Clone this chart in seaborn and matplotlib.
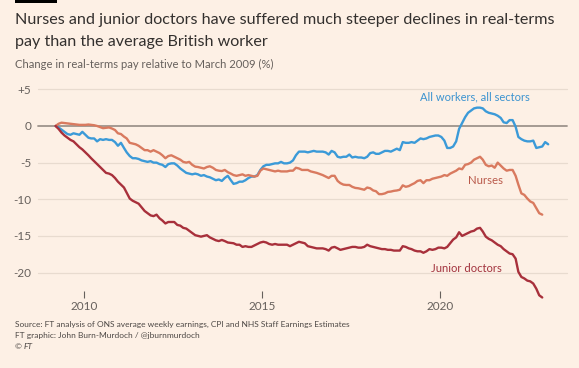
import matplotlib.pyplot as plt
import matplotlib.dates as mdates
import pandas as pd
import seaborn as sns
from matplotlib.patches import Rectangle

# Monthly values from March 2009, % change in real-terms pay
all_workers = [
    0, -0.2, -0.5, -0.8, -1.1, -1.2, -1.0, -1.1, -1.2, -0.8,
    -1.2, -1.6, -1.7, -1.7, -2.1, -1.8, -1.9, -1.8, -1.9, -1.9,
    -2.2, -2.7, -2.3, -3.0, -3.6, -4.1, -4.4, -4.4, -4.5, -4.7,
    -4.8, -4.9, -4.8, -5.0, -5.0, -5.2, -5.3, -5.6, -5.2, -5.1,
    -5.1, -5.4, -5.8, -6.1, -6.4, -6.5, -6.6, -6.5, -6.6, -6.8,
    -6.7, -6.9, -7.0, -7.2, -7.4, -7.3, -7.5, -7.1, -6.8, -7.4,
    -7.9, -7.8, -7.6, -7.6, -7.4, -7.1, -6.9, -6.9, -6.7, -6.0,
    -5.5, -5.3, -5.3, -5.2, -5.1, -5.1, -4.9, -5.1, -5.1, -5.0,
    -4.7, -4.0, -3.5, -3.5, -3.5, -3.6, -3.5, -3.4, -3.5, -3.5,
    -3.5, -3.6, -3.9, -3.4, -3.6, -4.2, -4.3, -4.2, -4.2, -3.9,
    -4.3, -4.2, -4.3, -4.3, -4.4, -4.2, -3.7, -3.6, -3.8, -3.8,
    -3.6, -3.4, -3.4, -3.5, -3.3, -3.1, -3.3, -2.2, -2.3, -2.3,
    -2.2, -2.3, -2.0, -1.7, -1.8, -1.7, -1.5, -1.4, -1.3, -1.3,
    -1.5, -2.0, -3.0, -3.0, -2.8, -2.1, -0.4, 0.4, 1.2, 1.8,
    2.1, 2.4, 2.5, 2.5, 2.4, 2.0, 1.8, 1.7, 1.6, 1.4,
    1.1, 0.5, 0.4, 0.8, 0.8, -0.1, -1.5, -1.8, -2.0, -2.1,
    -2.1, -2.0, -3.0, -2.9, -2.8, -2.2, -2.5,
]
nurses = [
    0, 0.3, 0.45, 0.4, 0.35, 0.3, 0.25, 0.2, 0.15, 0.15,
    0.15, 0.2, 0.15, 0.1, 0.0, -0.15, -0.3, -0.25, -0.2, -0.35,
    -0.55, -1.0, -1.1, -1.45, -1.7, -2.3, -2.4, -2.5, -2.7, -3.0,
    -3.3, -3.3, -3.5, -3.3, -3.5, -3.7, -4.0, -4.4, -4.1, -4.0,
    -4.2, -4.4, -4.6, -4.9, -5.0, -4.9, -5.3, -5.55, -5.6, -5.7,
    -5.8, -5.6, -5.5, -5.7, -6.0, -6.1, -6.15, -6.0, -6.3, -6.5,
    -6.7, -6.8, -6.7, -6.6, -6.8, -6.7, -6.8, -6.9, -6.8, -6.1,
    -5.8, -5.9, -6.0, -6.1, -6.2, -6.1, -6.2, -6.2, -6.2, -6.1,
    -6.1, -5.7, -5.8, -6.0, -6.0, -6.0, -6.2, -6.3, -6.4, -6.55,
    -6.7, -6.9, -7.1, -6.8, -6.8, -7.5, -7.8, -8.0, -8.05, -8.05,
    -8.3, -8.45, -8.5, -8.6, -8.7, -8.4, -8.5, -8.8, -8.9, -9.3,
    -9.3, -9.2, -9.0, -8.95, -8.85, -8.8, -8.7, -8.1, -8.3, -8.2,
    -8.0, -7.8, -7.5, -7.4, -7.8, -7.4, -7.4, -7.2, -7.1, -7.0,
    -6.9, -6.7, -6.8, -6.5, -6.3, -6.1, -5.8, -5.9, -5.3, -5.2,
    -5.0, -4.6, -4.4, -4.2, -4.6, -5.3, -5.5, -5.4, -5.7, -5.0,
    -5.4, -5.8, -6.1, -6.0, -6.0, -6.8, -8.0, -9.2, -9.4, -9.9,
    -10.3, -10.5, -11.2, -11.9, -12.1,
]
junior_doctors = [
    0, -0.4, -0.9, -1.3, -1.6, -1.9, -2.1, -2.5, -2.9, -3.2,
    -3.6, -4.0, -4.4, -4.8, -5.2, -5.6, -6.0, -6.4, -6.5, -6.7,
    -7.1, -7.6, -8.0, -8.4, -9.1, -9.9, -10.2, -10.4, -10.6, -11.1,
    -11.6, -11.9, -12.2, -12.3, -12.1, -12.6, -12.9, -13.3, -13.1, -13.1,
    -13.1, -13.5, -13.6, -13.9, -14.0, -14.3, -14.6, -14.9, -15.0, -15.1,
    -15.0, -14.9, -15.2, -15.4, -15.6, -15.7, -15.55, -15.7, -15.9, -15.95,
    -16.0, -16.2, -16.2, -16.5, -16.4, -16.5, -16.5, -16.3, -16.1, -15.9,
    -15.8, -15.9, -16.1, -16.2, -16.1, -16.2, -16.2, -16.2, -16.2, -16.4,
    -16.2, -16.0, -15.8, -15.9, -16.0, -16.4, -16.5, -16.6, -16.7, -16.7,
    -16.7, -16.8, -17.0, -16.6, -16.5, -16.7, -16.9, -16.8, -16.7, -16.6,
    -16.5, -16.5, -16.6, -16.6, -16.5, -16.2, -16.4, -16.5, -16.6, -16.7,
    -16.8, -16.8, -16.9, -16.9, -17.0, -17.0, -17.0, -16.4, -16.5, -16.7,
    -16.8, -17.0, -17.1, -17.1, -17.3, -17.1, -16.8, -16.9, -16.8, -16.6,
    -16.6, -16.7, -16.5, -16.0, -15.5, -15.2, -14.5, -15.0, -14.8, -14.6,
    -14.4, -14.3, -14.0, -13.9, -14.4, -15.1, -15.4, -15.6, -15.9, -16.2,
    -16.4, -16.8, -17.1, -17.4, -17.5, -18.1, -19.9, -20.6, -20.8, -21.1,
    -21.2, -21.5, -22.2, -23.1, -23.4,
]
groups = ['All workers, all sectors', 'Nurses', 'Junior doctors']
y_ticks = [5, 0, -5, -10, -15, -20]
y_labels = ['+5', '0', '-5', '-10', '-15', '-20']
x_years = [2010, 2015, 2020]

bg = '#fdf0e5'
colors = {'All workers, all sectors': '#3b9ad8', 'Nurses': '#d97a5f', 'Junior doctors': '#a8303b'}
label_colors = {'All workers, all sectors': '#3b93d0', 'Nurses': '#b9594a', 'Junior doctors': '#a2323d'}


def make_frame(vals, name):
    d = pd.date_range('2009-03-01', periods=len(vals), freq='MS') + pd.Timedelta(days=14)
    return pd.DataFrame({'date': d, 'value': vals, 'group': name})


df = pd.concat([make_frame(all_workers, groups[0]),
                make_frame(nurses, groups[1]),
                make_frame(junior_doctors, groups[2])], ignore_index=True)

sns.set_theme(style='white')
plt.rcParams['font.family'] = ['Lato', 'DejaVu Sans']

W, H = 579, 368
fig = plt.figure(figsize=(W / 100, H / 100), dpi=100, facecolor=bg)
ax = fig.add_axes([38 / W, 1 - 298 / H, (567 - 38) / W, (298 - 85) / H])
ax.set_facecolor(bg)

for v in y_ticks:
    if v != 0:
        ax.axhline(v, color='#e8dbcf', lw=0.9, zorder=0)
ax.axhline(0, color='#9d948c', lw=1.3, zorder=1)

sns.lineplot(data=df, x='date', y='value', hue='group', hue_order=groups,
             palette=colors, linewidth=1.7, legend=False, ax=ax, zorder=3)
for ln in ax.get_lines():
    ln.set_clip_on(False)

ax.set_xlim(pd.Timestamp('2008-09-16'), pd.Timestamp('2023-07-27'))
ax.set_ylim(-23.47, 5.59)
ax.set_yticks(y_ticks)
ax.set_yticklabels(y_labels)
ax.set_xticks([pd.Timestamp(f'{y}-01-01') for y in x_years])
ax.xaxis.set_major_formatter(mdates.DateFormatter('%Y'))
ax.tick_params(axis='x', direction='in', length=5, width=0.8, color='#66605c',
               pad=2, labelsize=8.5, labelcolor='#66605c', bottom=True)
ax.tick_params(axis='y', length=0, pad=5, labelsize=8.5, labelcolor='#66605c')
ax.set_xlabel('')
ax.set_ylabel('')
for s in ax.spines.values():
    s.set_visible(False)

# line labels
ax.text(pd.Timestamp('2020-12-25'), 3.96, groups[0], color=label_colors[groups[0]],
        fontsize=8.0, ha='center', va='center')
ax.text(pd.Timestamp('2021-04-15'), -7.5, groups[1], color=label_colors[groups[1]],
        fontsize=8.2, ha='center', va='center')
ax.text(pd.Timestamp('2020-10-01'), -19.4, groups[2], color=label_colors[groups[2]],
        fontsize=8.1, ha='center', va='center')

# header
fig.add_artist(Rectangle((15 / W, 1 - 3 / H), 42 / W, 3 / H, transform=fig.transFigure,
                         color='black', lw=0))
fig.text(15 / W, 1 - 24 / H, 'Nurses and junior doctors have suffered much steeper declines in real-terms',
         fontsize=11.6, color='#33302e', va='baseline')
fig.text(15 / W, 1 - 46 / H, 'pay than the average British worker',
         fontsize=11.6, color='#33302e', va='baseline')
fig.text(15 / W, 1 - 68 / H, 'Change in real-terms pay relative to March 2009 (%)',
         fontsize=8.1, color='#66605c', va='baseline')

# footer
foot = dict(fontsize=6.0, color='#4d4845', va='baseline')
fig.text(15 / W, 1 - 327 / H,
         'Source: FT analysis of ONS average weekly earnings, CPI and NHS Staff Earnings Estimates', **foot)
fig.text(15 / W, 1 - 338 / H, 'FT graphic: John Burn-Murdoch / @jburnmurdoch', **foot)
fig.text(15 / W, 1 - 349 / H, '©', **foot)
fig.text(24 / W, 1 - 349 / H, 'FT', style='italic', **foot)

fig.savefig('out.png', dpi=100, facecolor=bg)
